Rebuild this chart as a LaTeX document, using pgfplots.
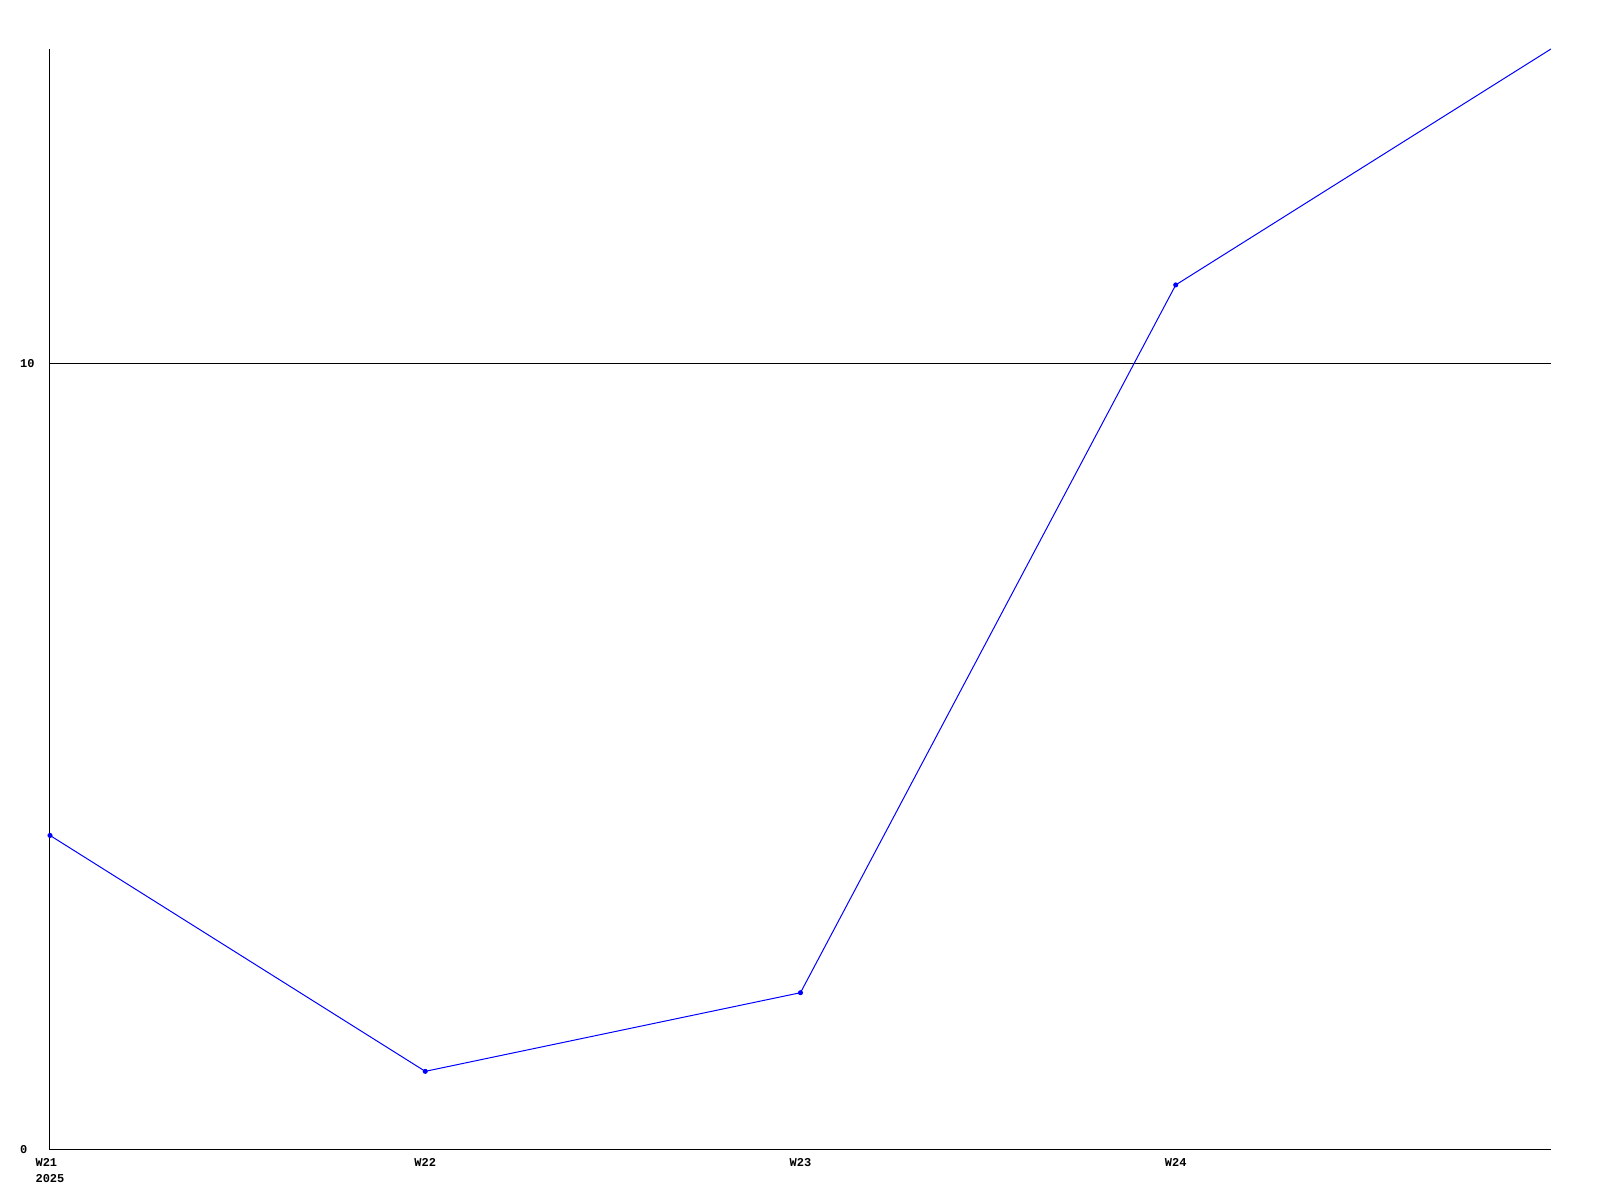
\documentclass[border=0pt]{standalone}
\usepackage{fontspec}
\setmainfont{Liberation Mono}
\usepackage{pgfplots}
\pgfplotsset{compat=1.18}
\begin{document}
\begin{tikzpicture}
\path[use as bounding box] (-12.5pt,-12.5pt) rectangle (387.5pt,287.5pt);
\begin{axis}[
  at={(0,0)}, anchor=south west,
  scale only axis,
  width=375.25pt, height=275.25pt,
  xmin=0, xmax=4, ymin=0, ymax=14,
  axis x line*=bottom, axis y line*=left,
  axis line style={black, line width=0.25pt, -},
  xtick={0,1,2,3}, ytick={0,10},
  xticklabels={{W21\\2025},W22,W23,W24},
  yticklabels={0,10},
  major tick length=0pt,
  ymajorgrids, major grid style={black, line width=0.25pt},
  tick label style={font=\fontsize{3}{3.8}\selectfont\bfseries},
  xticklabel style={inner sep=0pt, yshift=-2pt, align=left},
  yticklabel style={anchor=west, inner sep=0pt, xshift=-7.65pt},
  /pgf/number format/assume math mode=true,
]
\addplot[blue, line width=0.25pt, mark=*, mark size=0.5pt, mark indices={1,2,3,4}]
  coordinates {(0,4) (1,1) (2,2) (3,11) (4,14)};
\end{axis}
\end{tikzpicture}
\end{document}
